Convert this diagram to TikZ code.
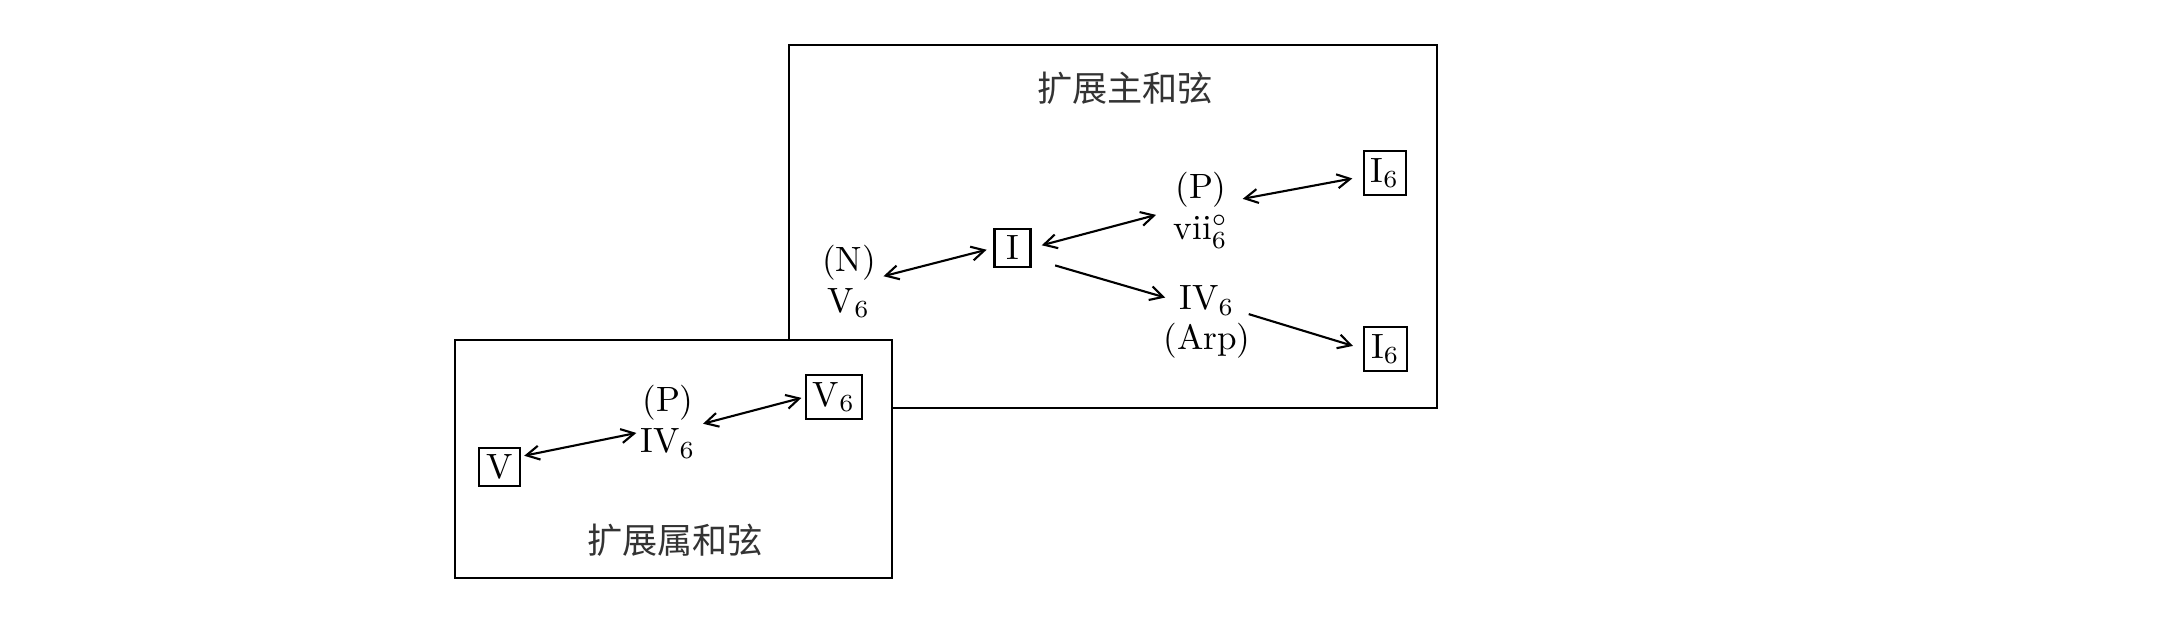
\documentclass[tikz,border=0pt]{standalone}
\usepackage{fontspec}
\newfontfamily\cjk{Noto Sans CJK SC}
\usetikzlibrary{arrows.meta,positioning}

\tikzstyle{region} = [draw, line width=0.7pt, fill=white]
\tikzstyle{chord} = [inner sep=1pt]
\tikzstyle{tonic} = [draw, line width=0.6pt, inner xsep=2pt, inner ysep=2pt, minimum width=0.36cm, minimum height=0.38cm]
\tikzstyle{edge} = [draw, line width=0.6pt, -{Straight Barb[length=1.3mm,width=1.4mm]}]
\tikzstyle{both edge} = [edge, {Straight Barb[length=1.3mm,width=1.4mm]}-{Straight Barb[length=1.3mm,width=1.4mm]}]
\tikzstyle{heading} = [font=\cjk\fontsize{10}{12}\selectfont, text=black!80]

\begin{document}
\begin{tikzpicture}
  \useasboundingbox (0,0) rectangle (21.75,6.32);

  % The two regions, the dominant one on top
  \path[region] (7.89,2.24) rectangle (14.37,5.87);
  \path[region] (4.55,0.54) rectangle (8.92,2.92);

  \node[heading] (tonicHead) at (11.25,5.44) {扩展主和弦};
  \node[heading] (domHead) at (6.75,0.92) {扩展属和弦};

  % The boxed chords
  \foreach \pos/\name/\lab in {{(10.125,3.84)/I/I}, {(13.85,4.59)/Ia/I$_6$}, {(13.855,2.83)/Ib/I$_6$}, {(4.995,1.65)/V/V}, {(8.34,2.35)/Vb/V$_6$}} {
    \node[tonic] (\name) at \pos {\lab};
  }

  % The chords in between, with what they do
  \node[chord] (V6) at (8.49,3.29) {V$_6$};
  \node[chord, above=0pt of V6] (N) {(N)};
  \node[chord] (vii) at (12.01,4.00) {vii$^\circ_6$};
  \node[chord, above=0pt of vii] (P) {(P)};
  \node[chord] (IV) at (12.07,3.315) {IV$_6$};
  \node[chord, below=0pt of IV] (Arp) {(Arp)};
  \node[chord] (IVb) at (6.68,1.885) {IV$_6$};
  \node[chord, above=0pt of IVb] (Pb) {(P)};

  % The connections
  \path[both edge, shorten <=1pt, shorten >=2pt] ([yshift=2pt]N.south east) -- (I.west);
  \path[both edge, shorten <=3pt, shorten >=4pt] (I.east) -- (vii.north west);
  \path[edge, shorten <=7pt, shorten >=3pt] ([yshift=-3pt]I.east) -- (IV.west);
  \path[both edge, shorten <=3pt, shorten >=3pt] ([yshift=3pt]vii.north east) -- ([yshift=-1pt]Ia.west);
  \path[edge, shorten <=3pt, shorten >=3pt] ([yshift=-3pt]IV.east) -- (Ib.west);
  \path[both edge, shorten <=1pt] ([yshift=3pt]V.east) -- ([yshift=3pt]IVb.west);
  \path[both edge, shorten <=1pt, shorten >=1pt] (IVb.north east) -- (Vb.west);
\end{tikzpicture}
\end{document}
